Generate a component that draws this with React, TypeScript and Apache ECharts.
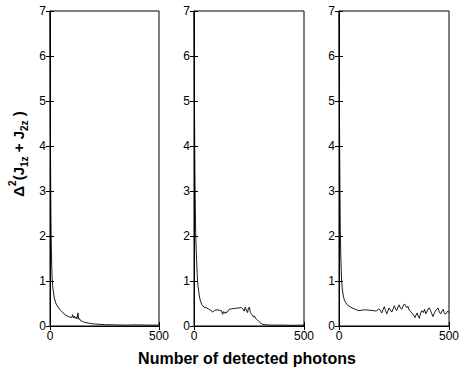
import React, { useEffect, useRef } from "react";
import * as echarts from "echarts";

const xTicks = [0, 500];
const yTicks = [0, 1, 2, 3, 4, 5, 6, 7];

const photons1 = [0, 1, 2, 3, 4, 5, 6, 8, 10, 12, 15, 20, 25, 30, 40, 50, 60, 70, 80, 90, 100, 104, 108, 112, 116, 120, 124, 128, 132, 136, 140, 150, 160, 180, 200, 250, 300, 350, 400, 450, 500];
const values1 = [7, 5.5, 4.3, 3.3, 2.6, 2.1, 1.8, 1.35, 1.05, 0.9, 0.78, 0.62, 0.53, 0.47, 0.4, 0.34, 0.29, 0.25, 0.22, 0.2, 0.19, 0.25, 0.18, 0.22, 0.17, 0.2, 0.16, 0.29, 0.15, 0.16, 0.12, 0.1, 0.08, 0.06, 0.045, 0.03, 0.025, 0.02, 0.025, 0.02, 0.02];

const photons2 = [0, 2, 4, 6, 8, 10, 12, 15, 18, 22, 26, 30, 35, 45, 55, 65, 75, 85, 95, 105, 115, 125, 130, 135, 140, 145, 150, 160, 170, 185, 200, 215, 222, 228, 233, 238, 243, 248, 252, 256, 260, 265, 270, 275, 280, 287, 295, 302, 310, 320, 350, 400, 450, 500];
const values2 = [7, 5, 3.5, 2.6, 2.0, 1.7, 1.45, 1.1, 0.9, 0.75, 0.62, 0.55, 0.48, 0.42, 0.41, 0.38, 0.35, 0.31, 0.35, 0.36, 0.35, 0.34, 0.26, 0.32, 0.28, 0.31, 0.3, 0.37, 0.38, 0.39, 0.4, 0.41, 0.38, 0.33, 0.42, 0.36, 0.3, 0.4, 0.42, 0.3, 0.27, 0.25, 0.2, 0.22, 0.17, 0.14, 0.1, 0.07, 0.04, 0.03, 0.02, 0.02, 0.015, 0.02];

const photons3 = [0, 2, 4, 6, 8, 10, 12, 15, 20, 25, 30, 40, 50, 60, 70, 80, 90, 100, 120, 140, 160, 170, 180, 188, 194, 200, 206, 212, 217, 222, 227, 233, 240, 246, 252, 257, 262, 268, 273, 279, 285, 291, 297, 303, 308, 313, 318, 324, 331, 338, 346, 350, 355, 360, 365, 370, 376, 383, 389, 394, 399, 405, 411, 417, 422, 427, 433, 438, 444, 450, 456, 462, 468, 473, 478, 483, 489, 495, 500];
const values3 = [7, 4.8, 3.2, 2.1, 1.6, 1.25, 1.0, 0.82, 0.65, 0.57, 0.52, 0.46, 0.43, 0.4, 0.38, 0.36, 0.34, 0.35, 0.36, 0.35, 0.34, 0.33, 0.38, 0.35, 0.29, 0.36, 0.43, 0.34, 0.27, 0.33, 0.4, 0.36, 0.31, 0.38, 0.45, 0.38, 0.34, 0.42, 0.47, 0.4, 0.37, 0.44, 0.49, 0.45, 0.41, 0.44, 0.36, 0.33, 0.29, 0.25, 0.19, 0.24, 0.29, 0.22, 0.17, 0.27, 0.34, 0.3, 0.37, 0.27, 0.31, 0.38, 0.4, 0.33, 0.27, 0.21, 0.28, 0.33, 0.37, 0.4, 0.31, 0.27, 0.33, 0.37, 0.3, 0.26, 0.29, 0.33, 0.3];

const panels = [
  { x: photons1, y: values1, left: 50, width: 109 },
  { x: photons2, y: values2, left: 194, width: 110 },
  { x: photons3, y: values3, left: 339, width: 110 },
];

const FONT = "Liberation Sans";

export default function App() {
  const ref = useRef<HTMLDivElement>(null);
  useEffect(() => {
    if (!ref.current) return;
    const chart = echarts.init(ref.current, null, { renderer: "svg" });
    const grids: any[] = [];
    const xAxes: any[] = [];
    const yAxes: any[] = [];
    const series: any[] = [];
    panels.forEach((p, i) => {
      grids.push({ left: p.left, width: p.width, top: 11, height: 315, show: true, borderColor: "#000", borderWidth: 1, backgroundColor: "#fff" });
      const xBase = {
        type: "value",
        gridIndex: i,
        min: xTicks[0],
        max: xTicks[xTicks.length - 1],
        interval: xTicks[1] - xTicks[0],
        splitLine: { show: false },
        axisLine: { show: true, lineStyle: { color: "#000", width: 1 } },
        axisTick: { show: true, inside: true, length: 4, lineStyle: { color: "#000" } },
      };
      xAxes.push({ ...xBase, position: "bottom", axisLabel: { show: true, color: "#000", fontSize: 12, fontFamily: FONT, margin: 4 } });
      xAxes.push({ ...xBase, position: "top", axisLabel: { show: false } });
      const yBase = {
        type: "value",
        gridIndex: i,
        min: yTicks[0],
        max: yTicks[yTicks.length - 1],
        interval: yTicks[1] - yTicks[0],
        splitLine: { show: false },
        axisLine: { show: true, lineStyle: { color: "#000", width: 1 } },
        axisTick: { show: true, inside: true, length: 4, lineStyle: { color: "#000" } },
      };
      yAxes.push({ ...yBase, position: "left", axisLabel: { show: true, color: "#000", fontSize: 12, fontFamily: FONT, margin: 4 } });
      yAxes.push({ ...yBase, position: "right", axisLabel: { show: false } });
      series.push({
        type: "line",
        xAxisIndex: i * 2,
        yAxisIndex: i * 2,
        data: p.x.map((v, k) => [v, p.y[k]]),
        showSymbol: false,
        symbol: "none",
        lineStyle: { color: "#000", width: 0.9 },
      });
    });
    chart.setOption({
      animation: false,
      backgroundColor: "#fff",
      grid: grids,
      xAxis: xAxes,
      yAxis: yAxes,
      series,
      graphic: [
        {
          type: "text",
          x: 247,
          y: 358,
          style: {
            text: "Number of detected photons",
            font: `bold 16px "${FONT}"`,
            fill: "#000",
            textAlign: "center",
            textVerticalAlign: "middle",
          },
        },
        {
          type: "text",
          x: 18,
          y: 154,
          rotation: Math.PI / 2,
          style: {
            text: "{a|Δ}{sup|2}{a|(J}{sub|1z}{a| + J}{sub|2z}{a| )}",
            textAlign: "center",
            textVerticalAlign: "middle",
            fill: "#000",
            rich: {
              a: { fontSize: 15, fontWeight: "bold", fontFamily: FONT, lineHeight: 22, verticalAlign: "middle", fill: "#000" },
              sup: { fontSize: 10, fontWeight: "bold", fontFamily: FONT, lineHeight: 10, verticalAlign: "top", fill: "#000" },
              sub: { fontSize: 10, fontWeight: "bold", fontFamily: FONT, lineHeight: 10, verticalAlign: "bottom", fill: "#000" },
            },
          },
        },
      ],
    });
    return () => chart.dispose();
  }, []);
  return <div ref={ref} style={{ width: 463, height: 369, position: "absolute", left: 0, top: 0 }} />;
}
